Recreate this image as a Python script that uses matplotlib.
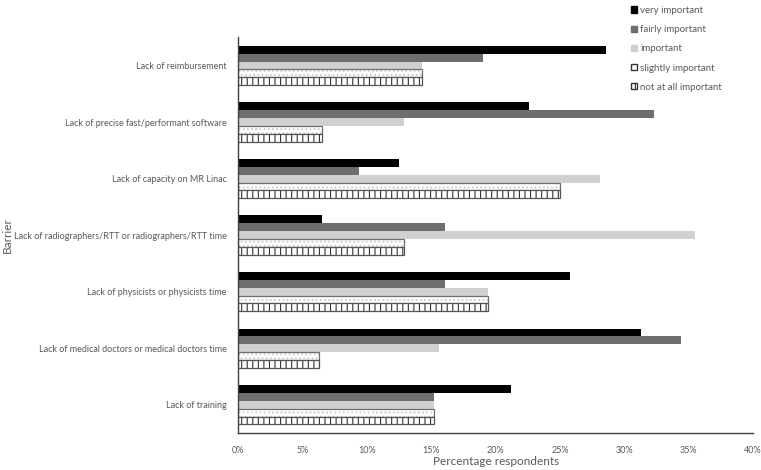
import matplotlib.pyplot as plt
import numpy as np
from matplotlib.patches import Patch
from matplotlib.ticker import FuncFormatter

plt.rcParams['font.family'] = ['Lato', 'DejaVu Sans']
plt.rcParams['hatch.linewidth'] = 0.8

# Data (percentage respondents)
barriers = ['Lack of reimbursement',
            'Lack of precise fast/performant software',
            'Lack of capacity on MR Linac',
            'Lack of radiographers/RTT or radiographers/RTT time',
            'Lack of physicists or physicists time',
            'Lack of medical doctors or medical doctors time',
            'Lack of training']
levels = ['very important', 'fairly important', 'important',
          'slightly important', 'not at all important']
very = [28.6, 22.6, 12.5, 6.5, 25.8, 31.3, 21.2]
fairly = [19.0, 32.3, 9.4, 16.1, 16.1, 34.4, 15.2]
important = [14.3, 12.9, 28.1, 35.5, 19.4, 15.6, 15.2]
slightly = [14.3, 6.5, 25.0, 12.9, 19.4, 6.3, 15.2]
not_at_all = [14.3, 6.5, 25.0, 12.9, 19.4, 6.3, 15.2]

txt = '#595959'
fig = plt.figure(figsize=(7.61, 4.70), dpi=100)
ax = fig.add_axes([0.3127, 0.0787, 0.677, 0.842])

y = np.arange(len(barriers))
h = 0.139
offsets = [-2 * h, -h, 0, h, 2 * h]

ax.barh(y + offsets[0], very, height=h, color='black')
ax.barh(y + offsets[1], fairly, height=h, color='#6e6e6e')
ax.barh(y + offsets[2], important, height=h, color='#d0d0d0')
# slightly important: white with faint dots
ax.barh(y + offsets[3], slightly, height=h, color='white', edgecolor='#c8c8c8',
        hatch='....', linewidth=0)
ax.barh(y + offsets[3], slightly, height=h, color='none', edgecolor='#6e6e6e', linewidth=0.9)
# not at all important: vertical stripes
ax.barh(y + offsets[4], not_at_all, height=h, color='white', edgecolor='#333333',
        hatch='|||', linewidth=0)
ax.barh(y + offsets[4], not_at_all, height=h, color='none', edgecolor='#555555', linewidth=0.9)

ax.set_ylim(len(barriers) - 0.5, -0.5)
ax.set_xlim(0, 40)
ax.set_xticks(np.arange(0, 41, 5))
ax.xaxis.set_major_formatter(FuncFormatter(lambda v, p: f'{v:.0f}%'))
ax.set_yticks(y)
ax.set_yticklabels(barriers)
ax.tick_params(axis='both', length=0, labelsize=6.5, colors=txt, pad=8)
ax.tick_params(axis='x', pad=9)

for s in ['top', 'right']:
    ax.spines[s].set_visible(False)
for s in ['left', 'bottom']:
    ax.spines[s].set_color('#404040')
    ax.spines[s].set_linewidth(1.0)

ax.set_xlabel('Percentage respondents', fontsize=8.5, color=txt)
ax.xaxis.set_label_coords(0.5, -0.058)
ax.set_ylabel('Barrier', fontsize=8.5, color=txt)
ax.yaxis.set_label_coords(-0.437, 0.5)

handles = [Patch(facecolor='black', edgecolor='black'),
           Patch(facecolor='#6e6e6e', edgecolor='#6e6e6e'),
           Patch(facecolor='#d0d0d0', edgecolor='#d0d0d0'),
           Patch(facecolor='white', edgecolor='#333333'),
           Patch(facecolor='white', edgecolor='#333333', hatch='||||')]
leg = fig.legend(handles, levels, loc='upper left', bbox_to_anchor=(0.818, 1.006),
                 frameon=False, fontsize=7, handlelength=0.6, handleheight=0.6,
                 handletextpad=0.3, labelspacing=1.05)
for t in leg.get_texts():
    t.set_color(txt)

fig.savefig('out.png', dpi=100)
